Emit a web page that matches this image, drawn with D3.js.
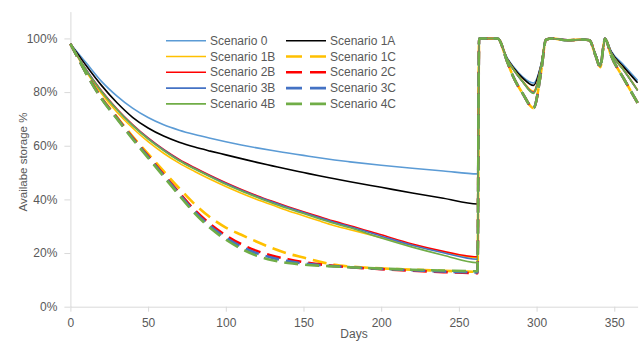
<!DOCTYPE html>
<html>
<head>
<meta charset="utf-8">
<script src="https://cdn.jsdelivr.net/npm/d3@7"></script>
<style>
  body { margin: 0; background: #fff; }
  text { font-family: "Liberation Sans", Arial, sans-serif; }
</style>
</head>
<body>
<div id="my_dataviz"></div>
<script>
// ---- data (storage % per day)
var days = [0,5,10,20,30,40,50,60,70,80,90,100,110,120,130,140,150,160,170,180,200,220,240,262,
            263,275,281,285,291,298,303,306,310,320,330,334,338,341,343,344,348,356,365];

var scenario0  = [98,94.5,91,84,78.5,74,70.5,67.8,65.8,64.2,62.8,61.5,60.3,59.2,58.2,57.3,56.4,55.5,54.7,54,52.7,51.6,50.6,49.5,
                  100,100,92.8,89.5,85.7,83.4,90.7,99.5,100,99.3,99.6,99.3,94,89.8,97,100,95.3,90.1,84.3];
var scenario1A = [98,94,90,82.5,76,70.6,66.6,63.6,61.3,59.5,58,56.6,55.2,53.8,52.5,51.2,50,48.8,47.7,46.6,44.5,42.4,40.4,38.3,
                  100,100,92.6,89.2,85.3,82.5,90.5,99.5,100,99.3,99.6,99.3,94,89.8,97,100,95,89.4,83.5];
var scenario1B = [98,92.8,87.8,79.5,72.5,66.6,61.5,57.2,53.5,50.4,47.5,44.8,42.3,40,37.9,35.8,33.9,32,30.2,28.7,25.8,22.9,20.4,18.3,
                  100,100,92.4,88.7,84.2,80.3,90.2,99.5,100,99.3,99.6,99.3,93.8,89.6,97,100,94.6,88.4,80.8];
var scenario1C = [98,92.6,87.3,78,70.7,63.5,57,50.5,44.2,38.2,33.3,29.5,26.8,24.2,21.8,19.8,18.3,16.8,15.6,15,14.3,13.8,13.4,13,
                  100,100,91.5,85.7,79.5,74,88,99.5,100,99.3,99.6,99.3,93.5,89.3,97,100,93.5,85.1,76];
var scenario2B = [98,93.2,88.5,80.5,73.7,67.9,62.9,58.6,54.9,51.8,48.9,46.2,43.7,41.4,39.3,37.3,35.4,33.6,31.8,30.2,26.8,23.4,20.7,18.6,
                  100,100,92.3,88.5,83.9,79.9,90,99.5,100,99.3,99.6,99.3,93.8,89.6,97,100,94.5,88.2,80.6];
var scenario2C = [98,92.6,87.2,77.8,70.4,63,56.2,49.3,42.5,36,30.8,26.6,23.3,20.8,19,17.7,16.6,15.8,15.2,14.7,14,13.4,12.9,12.5,
                  100,100,91.5,85.7,79.5,74,88,99.5,100,99.3,99.6,99.3,93.5,89.3,97,100,93.5,85.1,76];
var scenario3B = [98,93.1,88.4,80.3,73.5,67.7,62.7,58.4,54.6,51.5,48.6,45.9,43.4,41.1,39,37,35.1,33.2,31.4,29.8,26.3,22.9,20.1,17.7,
                  100,100,92.3,88.5,83.9,79.7,90,99.5,100,99.3,99.6,99.3,93.8,89.6,97,100,94.5,88.2,80.6];
var scenario3C = [98,92.5,87.1,77.6,70.2,62.8,55.9,48.9,42,35.4,30,25.8,22.4,19.9,18.2,17,16.1,15.5,15.1,14.7,14.1,13.6,13.1,12.8,
                  100,100,91.5,85.7,79.5,74,88,99.5,100,99.3,99.6,99.3,93.5,89.3,97,100,93.5,85.1,76];
var scenario4B = [98,93.1,88.3,80.2,73.4,67.5,62.5,58.2,54.4,51.3,48.4,45.6,43.1,40.8,38.6,36.6,34.7,32.8,31,29.4,25.6,22.2,19.2,16.4,
                  100,100,92.3,88.5,83.9,79.5,90,99.5,100,99.3,99.6,99.3,93.8,89.6,97,100,94.5,88.2,80.6];
var scenario4C = [98,92.5,87,77.5,70,62.5,55.5,48.5,41.5,34.8,29.3,25,21.6,19,17.3,16.3,15.7,15.3,15,14.7,14.2,13.8,13.5,13.2,
                  100,100,91.5,85.7,79.5,74,88,99.5,100,99.3,99.6,99.3,93.5,89.3,97,100,93.5,85.1,76];

var seriesNames = ["Scenario 0","Scenario 1A","Scenario 1B","Scenario 1C","Scenario 2B",
                   "Scenario 2C","Scenario 3B","Scenario 3C","Scenario 4B","Scenario 4C"];
var xTicks = [0,50,100,150,200,250,300,350];
var yTicks = [0,20,40,60,80,100];

// ---- plotting setup
var width = 640, height = 343;
var svg = d3.select("div#my_dataviz")
    .append("svg")
      .attr("width", width)
      .attr("height", height);

var xScale = d3.scaleLinear().domain([0, 365]).range([70.4, 637.6]);
var yScale = d3.scaleLinear().domain([0, 110]).range([306.7, 11.6]);

var values = [scenario0, scenario1A, scenario1B, scenario1C, scenario2B,
              scenario2C, scenario3B, scenario3C, scenario4B, scenario4C];
var colors = ["#5B9BD5","#000000","#FFC000","#FFC000","#FF0000",
              "#FF0000","#4472C4","#4472C4","#70AD47","#70AD47"];
var dashed = [false,false,false,true,false,true,false,true,false,true];

var data = seriesNames.map(function(name, i) {
    return {name: name, color: colors[i], dashed: dashed[i],
            points: days.map(function(d, j) { return {x: d, y: values[i][j]}; })};
});

var line = d3.line()
    .x(d => xScale(d.x))
    .y(d => yScale(d.y))
    .curve(d3.curveMonotoneX);

// axes
var yAxis = svg.append("g")
    .attr("transform", "translate(" + xScale(0) + ",0)")
    .call(d3.axisLeft(yScale).tickValues(yTicks).tickFormat(d => d + "%")
          .tickSize(6).tickSizeOuter(0).tickPadding(7));

var xAxis = svg.append("g")
    .attr("transform", "translate(0," + yScale(0) + ")")
    .call(d3.axisBottom(xScale).tickValues(xTicks).tickSize(5).tickSizeOuter(0).tickPadding(7));

[yAxis, xAxis].forEach(function(g) {
    g.select(".domain").attr("stroke", "#d9d9d9");
    g.selectAll(".tick line").attr("stroke", "#d9d9d9");
    g.selectAll(".tick text").attr("fill", "#595959")
        .style("font-size", "12px").style("font-family", "'Liberation Sans', Arial, sans-serif");
});

svg.append("text")
    .attr("x", 354).attr("y", 337.5)
    .attr("text-anchor", "middle")
    .attr("fill", "#595959").style("font-size", "12px")
    .text("Days");

svg.append("text")
    .attr("transform", "translate(23,162) rotate(-90)")
    .attr("text-anchor", "middle")
    .attr("dominant-baseline", "central")
    .attr("fill", "#595959").style("font-size", "11.5px")
    .text("Availabe storage %");

// series lines
svg.append("g").selectAll("path")
    .data(data)
    .enter().append("path")
      .attr("d", d => line(d.points))
      .attr("fill", "none")
      .attr("stroke", d => d.color)
      .attr("stroke-width", d => d.dashed ? 2.6 : 1.6)
      .attr("stroke-dasharray", d => d.dashed ? "14,7" : null)
      .attr("stroke-linejoin", "round");

// legend, two columns
var legend = svg.append("g").selectAll("g")
    .data(data)
    .enter().append("g")
      .attr("transform", (d, i) => "translate(" + (i % 2 ? 286 : 166) + "," + (40.7 + Math.floor(i / 2) * 15.8) + ")");

legend.append("line")
    .attr("x1", 0).attr("x2", 40).attr("y1", 0).attr("y2", 0)
    .attr("stroke", d => d.color)
    .attr("stroke-width", d => d.dashed ? 2.6 : 1.6)
    .attr("stroke-dasharray", d => d.dashed ? "16,8" : null);

legend.append("text")
    .attr("x", 44).attr("y", 0)
    .attr("dominant-baseline", "central")
    .attr("fill", "#595959").style("font-size", "12px")
    .text(d => d.name);
</script>
</body>
</html>
